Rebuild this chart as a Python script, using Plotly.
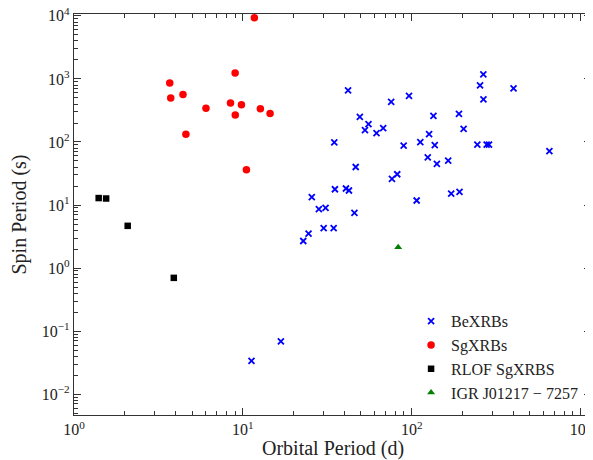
import plotly.graph_objects as go

# ---- data (orbital period in days, spin period in s) ----
be_porb = [265.7, 254, 401, 266, 42.0, 96.4, 75.6, 49.3, 134.5, 190.5,
           55.5, 52.9, 61.9, 67.8, 203, 126.8, 34.8, 89.6, 112.5, 137,
           244.8, 278, 287, 654, 124.5, 141, 164.5, 46.6, 76.4, 82.1,
           35.1, 40.8, 42.5, 25.6, 28.2, 30.9, 45.8, 107, 171.4, 192,
           30.1, 34.5, 24.5, 22.8, 16.8, 11.25]
be_pspin = [1182, 792, 711, 476, 661, 538, 433, 251, 260, 280,
            192, 154, 138, 166, 162, 133, 98.6, 87.4, 99.6, 89.3,
            90.6, 90.6, 90.6, 71.8, 57.2, 44.8, 50.7, 40.1, 25.9, 30.8,
            17.8, 18.3, 17.0, 13.3, 8.61, 9.03, 7.53, 11.8, 15.2, 16.2,
            4.31, 4.31, 3.51, 2.69, 0.069, 0.0338]

sg_porb = [11.7, 9.0, 3.69, 3.74, 4.42, 6.05, 8.45, 9.81, 9.02, 12.7, 14.5, 4.6, 10.5]
sg_pspin = [9330, 1240, 861, 499, 569, 342, 416, 391, 269, 338, 282, 133, 36.4]

rlof_porb = [1.40, 1.55, 2.08, 3.90]
rlof_pspin = [12.9, 12.7, 4.68, 0.70]

igr_porb = [83.2]
igr_pspin = [2.15]

x_tickvals = [1, 10, 100, 1000]
x_ticktext = ["10<sup>0</sup>", "10<sup>1</sup>", "10<sup>2</sup>", "10<sup>3</sup>"]
y_tickvals = [0.01, 0.1, 1, 10, 100, 1000, 10000]
y_ticktext = ["10<sup>−2</sup>", "10<sup>−1</sup>", "10<sup>0</sup>", "10<sup>1</sup>",
              "10<sup>2</sup>", "10<sup>3</sup>", "10<sup>4</sup>"]

FONT = "Liberation Serif"

fig = go.Figure()
fig.add_trace(go.Scatter(x=be_porb, y=be_pspin, mode="markers", name="BeXRBs",
                         marker=dict(symbol="x-thin-open", size=6, color="blue",
                                     line=dict(width=1.8, color="blue"))))
fig.add_trace(go.Scatter(x=sg_porb, y=sg_pspin, mode="markers", name="SgXRBs",
                         marker=dict(symbol="circle", size=7.5, color="red",
                                     line=dict(width=0))))
fig.add_trace(go.Scatter(x=rlof_porb, y=rlof_pspin, mode="markers", name="RLOF SgXRBS",
                         marker=dict(symbol="square", size=6.5, color="black",
                                     line=dict(width=0))))
fig.add_trace(go.Scatter(x=igr_porb, y=igr_pspin, mode="markers", name="IGR J01217 − 7257",
                         marker=dict(symbol="triangle-up", size=7, color="green",
                                     line=dict(width=0))))

axis_common = dict(
    type="log", showgrid=False, zeroline=False, automargin=False,
    showline=True, linecolor="#333", linewidth=1.2, mirror="ticks",
    ticks="inside", ticklen=7, tickwidth=1, tickcolor="#333",
    tickfont=dict(family=FONT, size=16, color="#222"),
    ticklabeloverflow="allow",
    minor=dict(ticks="inside", ticklen=3.5, tickwidth=1, tickcolor="#333",
               dtick="D1", showgrid=False),
)

fig.update_xaxes(**axis_common, range=[0, 3.062], tickvals=x_tickvals, ticktext=x_ticktext)
fig.update_yaxes(**axis_common, range=[-2.33, 4.03], tickvals=y_tickvals, ticktext=y_ticktext)

fig.add_annotation(text="Orbital Period (d)", xref="paper", yref="paper", x=0.5, y=0,
                   yshift=-33, xanchor="center", yanchor="middle", showarrow=False,
                   font=dict(family=FONT, size=20, color="#222"))
fig.add_annotation(text="Spin Period (s)", xref="paper", yref="paper", x=0, y=0.5,
                   xshift=-55, xanchor="center", yanchor="middle", showarrow=False,
                   textangle=-90, font=dict(family=FONT, size=20, color="#222"))

# the page body adds an 8px offset; margins compensate so the plot box lands
# where it is in the reference
fig.update_layout(
    width=593, height=460,
    margin=dict(l=66, r=10, t=6, b=53, autoexpand=False),
    plot_bgcolor="white", paper_bgcolor="white",
    font=dict(family=FONT, color="#222"),
    legend=dict(x=0.652, y=0.012, xanchor="left", yanchor="bottom",
                bgcolor="rgba(0,0,0,0)", borderwidth=0,
                font=dict(family=FONT, size=16, color="#222"),
                itemsizing="trace", itemwidth=30, tracegroupgap=0),
    showlegend=True,
)

fig.write_html("out.html")
